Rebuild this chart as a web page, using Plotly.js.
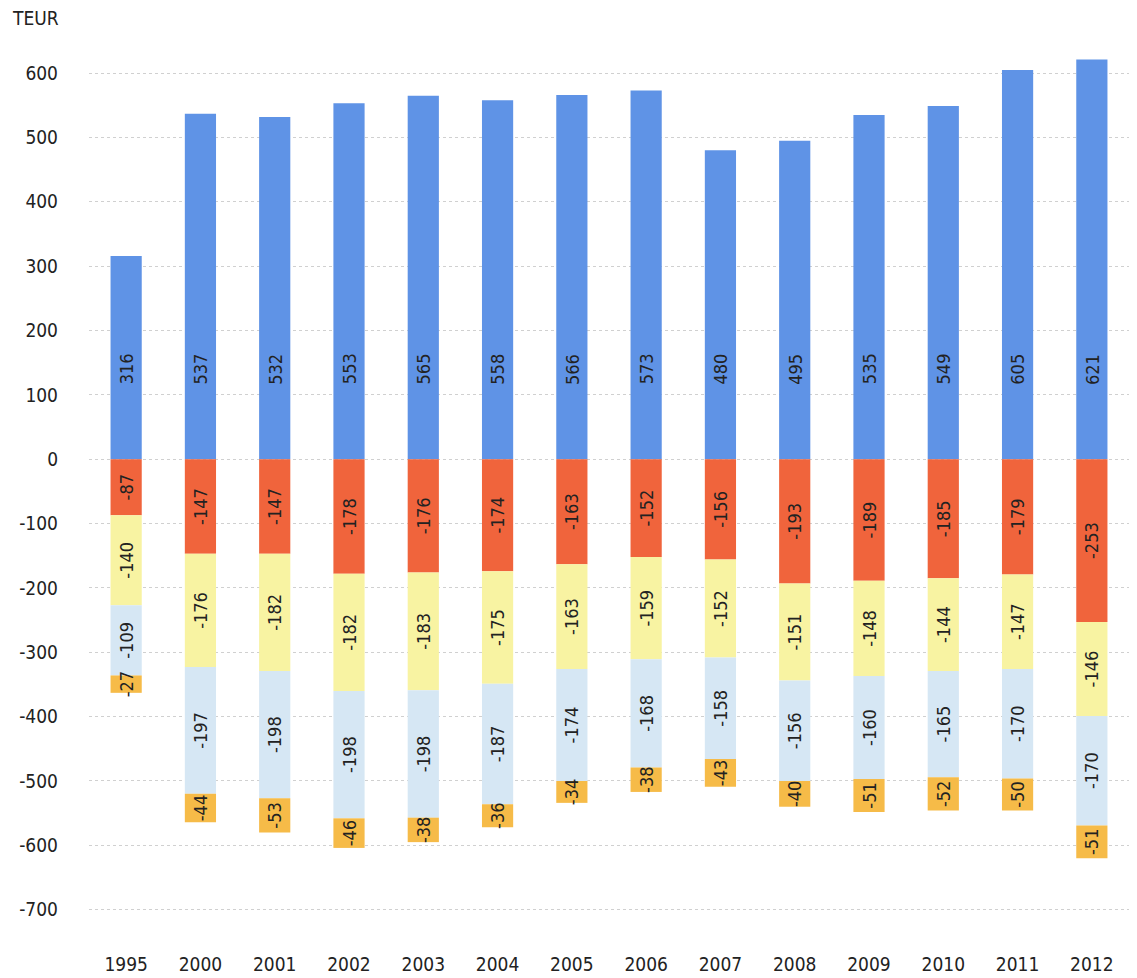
<!DOCTYPE html>
<html><head><meta charset="utf-8">
<script src="https://cdn.plot.ly/plotly-3.0.1.min.js"></script>
<style>body{margin:0;background:#fff}#c{width:1137px;height:978px}
svg text{font-stretch:condensed !important;}</style>
</head><body><div id="c"></div>
<script>
const years = ['1995','2000','2001','2002','2003','2004','2005','2006','2007','2008','2009','2010','2011','2012'];
const seriesBlue = [316,537,532,553,565,558,566,573,480,495,535,549,605,621];
const seriesRed = [-87,-147,-147,-178,-176,-174,-163,-152,-156,-193,-189,-185,-179,-253];
const seriesYellow = [-140,-176,-182,-182,-183,-175,-163,-159,-152,-151,-148,-144,-147,-146];
const seriesLightBlue = [-109,-197,-198,-198,-198,-187,-174,-168,-158,-156,-160,-165,-170,-170];
const seriesOrange = [-27,-44,-53,-46,-38,-36,-34,-38,-43,-40,-51,-52,-50,-51];
const yTicks = [600,500,400,300,200,100,0,-100,-200,-300,-400,-500,-600,-700];
const blueLabelLevel = 140;

const FONT = '"DejaVu Sans Condensed", "Liberation Sans Narrow", "DejaVu Sans", sans-serif';
const TXT = {family:FONT, size:18, color:'#222'};
function mk(vals, color, withText){
  const t = {type:'bar', x:years, y:vals, marker:{color:color, line:{width:0}},
    hoverinfo:'x+y'};
  if (withText) Object.assign(t, {text:vals.map(String), textposition:'inside',
    insidetextanchor:'middle', textangle:-90, constraintext:'none', textfont:TXT});
  else t.textposition = 'none';
  return t;
}
const data = [
  mk(seriesBlue,'#5f93e6', false),
  mk(seriesRed,'#f0643c', true),
  mk(seriesYellow,'#f8f3a2', true),
  mk(seriesLightBlue,'#d6e7f4', true),
  mk(seriesOrange,'#f6bb48', true)
];
const blueAnn = years.map((yr,i)=>({x:i, y:blueLabelLevel, xref:'x', yref:'y',
  text:String(seriesBlue[i]), textangle:-90, showarrow:false, font:TXT}));
const layout = {
  width:1137, height:978, barmode:'relative', bargap:0.58, showlegend:false,
  paper_bgcolor:'#fff', plot_bgcolor:'#fff',
  margin:{l:89, r:8, t:21, b:49},
  font:{family:FONT, size:19, color:'#222'},
  xaxis:{type:'category', range:[-0.5, years.length-0.5], autorange:false,
    showgrid:false, zeroline:false, showline:false, ticks:'',
    ticklabelstandoff:22, tickfont:{family:FONT, size:19, color:'#222'}},
  yaxis:{range:[-730,681], tickvals:yTicks, ticktext:yTicks.map(String),
    showgrid:true, gridcolor:'#d0d0d0', griddash:'dot', gridwidth:1,
    zeroline:false, showline:false, ticks:'', ticklabelstandoff:30,
    tickfont:{family:FONT, size:19, color:'#222'}},
  annotations:[{text:'TEUR', xref:'paper', yref:'paper', x:-0.076, y:1.003,
    xanchor:'left', yanchor:'middle', showarrow:false,
    font:{family:FONT, size:19, color:'#222'}}].concat(blueAnn)
};
Plotly.newPlot('c', data, layout, {displayModeBar:false, staticPlot:true});
</script></body></html>
